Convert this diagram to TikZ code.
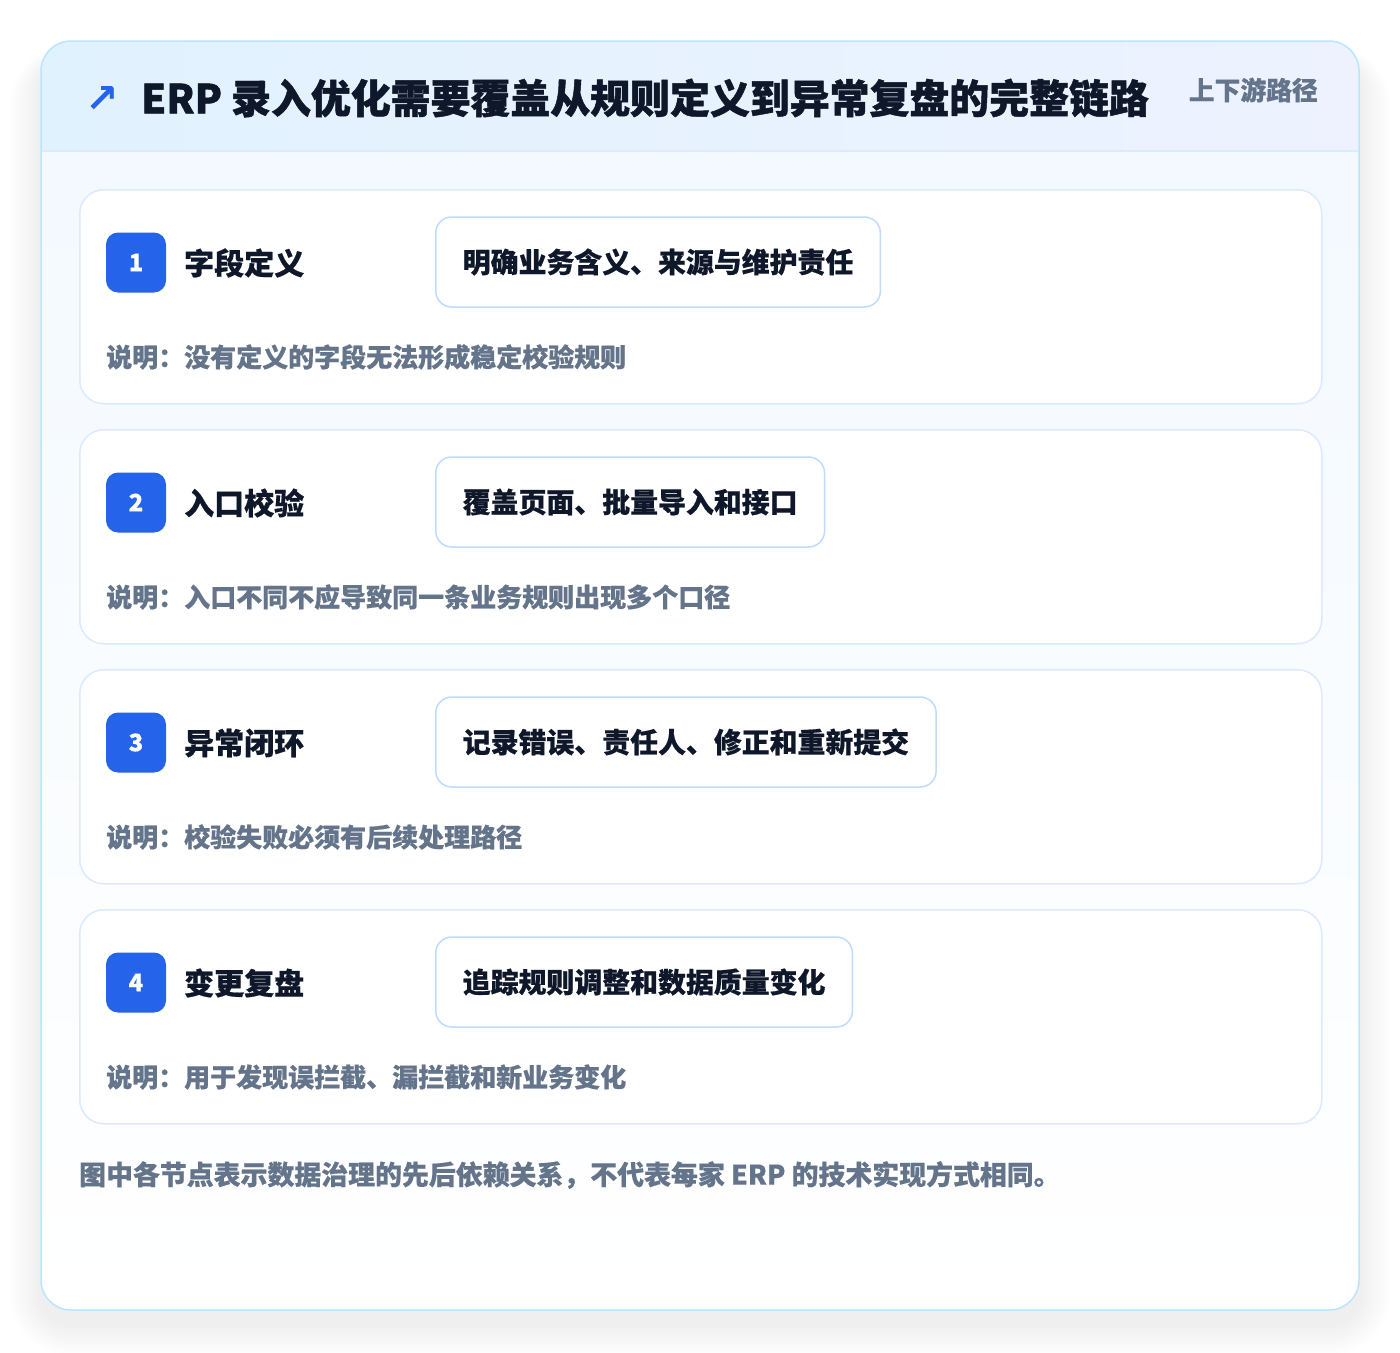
\documentclass[tikz,border=0pt]{standalone}
\usepackage{fontspec}
\newfontfamily\cjk{Noto Sans CJK SC}[BoldFeatures={FakeBold=0.5}]
\newfontfamily\cjkh{Noto Sans CJK SC}[BoldFeatures={FakeBold=1.2}]
\newfontfamily\symf{DejaVu Sans}
\definecolor{ink}{HTML}{0F172A}
\definecolor{muted}{HTML}{64748B}
\definecolor{brand}{HTML}{2563EB}
\definecolor{pillline}{HTML}{BFDBFE}
\definecolor{cardline}{HTML}{DBEAFE}
\definecolor{outerline}{HTML}{BAE6FD}
\definecolor{headL}{HTML}{E0F2FE}
\definecolor{headR}{HTML}{EEF2FF}
\definecolor{panelT}{HTML}{F3F9FF}
\definecolor{panelB}{HTML}{FFFFFF}
\begin{document}
\begin{tikzpicture}[x=1pt,y=-1pt,
  every node/.style={inner sep=0pt, font=\cjk\bfseries},
  outercard/.style={rectangle, rounded corners=30pt, minimum width=1318pt, minimum height=1269pt},
  rowcard/.style={rectangle, rounded corners=24pt, draw=cardline, line width=1.5pt, fill=white, minimum width=1242pt, minimum height=214pt},
  badge/.style={rectangle, rounded corners=12pt, fill=brand, minimum width=60pt, minimum height=60pt, text=white, font=\cjk\bfseries\fontsize{24}{24}\selectfont},
  steptitle/.style={anchor=west, text=ink, font=\cjk\bfseries\fontsize{30}{30}\selectfont},
  pill/.style={anchor=west, rectangle, rounded corners=16pt, draw=pillline, line width=1.5pt, fill=white, inner xsep=27pt, minimum height=90pt, text=ink, font=\cjk\bfseries\fontsize{27.9}{28}\selectfont},
  desc/.style={anchor=west, text=muted, font=\cjk\bfseries\fontsize{26}{26}\selectfont}
]
\useasboundingbox (0,0) rectangle (1400,1352);
\fill[white] (0,0) rectangle (1400,1352);
% soft shadow of the outer card
\foreach \i in {1,...,16}{
  \fill[black, opacity=0.0045, rounded corners=30pt+\i*2pt]
    (41-\i*2, 41+20-\i*1) rectangle (1359+\i*2, 1310+14+\i*2);
}
\node[outercard, fill=white] (card) at (700,675.5) {};
\begin{scope}
  \clip[rounded corners=30pt] (41,41) rectangle (1359,1310);
  \shade[top color=panelT, bottom color=panelB] (41,151) rectangle (1359,1310);
  \shade[left color=headL, right color=headR] (41,41) rectangle (1359,151);
  \draw[cardline, line width=1.5pt] (41,151) -- (1359,151);
\end{scope}
\draw[outerline, line width=1.5pt, rounded corners=30pt] (41,41) rectangle (1359,1310);
% header
\node[anchor=center, text=brand, font=\symf\bfseries\fontsize{40}{40}\selectfont] (arrow) at (102,99) {↗};
\node[anchor=west, text=ink, font=\cjkh\bfseries\fontsize{39.9}{40}\selectfont] (title) at (141,98) {ERP 录入优化需要覆盖从规则定义到异常复盘的完整链路};
\node[anchor=east, text=muted, font=\cjk\bfseries\fontsize{25.8}{26}\selectfont] (tag) at (1318,90) {上下游路径};
% rows
\foreach \n/\t/\p/\d/\y in {
  1/字段定义/明确业务含义、来源与维护责任/没有定义的字段无法形成稳定校验规则/189,
  2/入口校验/覆盖页面、批量导入和接口/入口不同不应导致同一条业务规则出现多个口径/429,
  3/异常闭环/记录错误、责任人、修正和重新提交/校验失败必须有后续处理路径/669,
  4/变更复盘/追踪规则调整和数据质量变化/用于发现误拦截、漏拦截和新业务变化/909}{
  \foreach \k in {1,...,6}{
    \fill[black, opacity=0.005, rounded corners=16pt+\k pt]
      (435-\k, \y+28+6-\k*0.5) rectangle (435+420+\k, \y+118+6+\k);
  }
  \node[rowcard, anchor=north west] (row\n) at (79,\y) {};
  \node[badge] (badge\n) at (136,\y+73.5) {\n};
  \node[steptitle] (step\n) at (184,\y+74) {\t};
  \node[pill] (pill\n) at (435,\y+73) {\p};
  \node[desc] (desc\n) at (106,\y+168) {说明：\d};
}
% footer
\node[anchor=west, text=muted, font=\cjk\bfseries\fontsize{26.9}{27}\selectfont] (note) at (79,1175) {图中各节点表示数据治理的先后依赖关系，不代表每家 ERP 的技术实现方式相同。};
\end{tikzpicture}
\end{document}
